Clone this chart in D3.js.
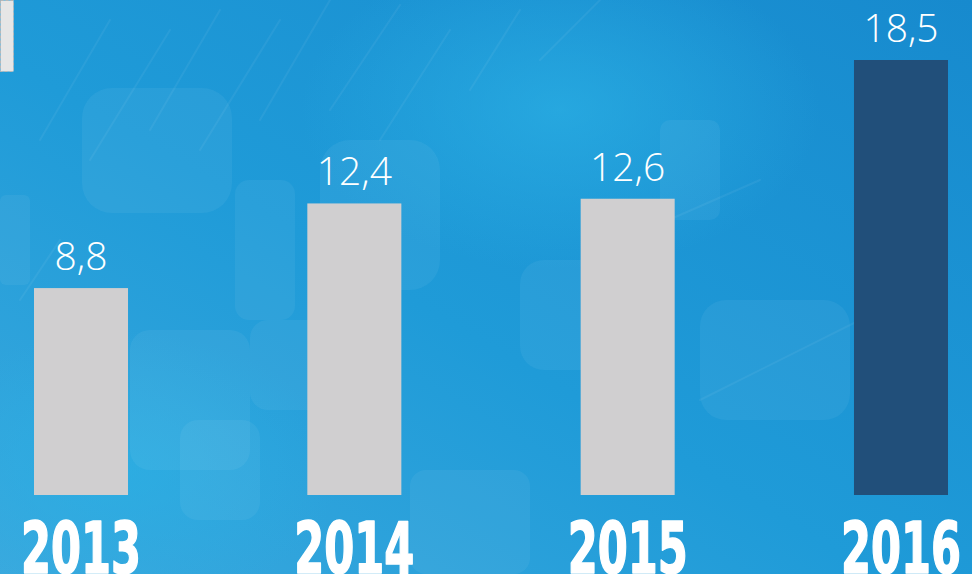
<!DOCTYPE html>
<html>
<head>
<meta charset="utf-8">
<script src="https://cdn.jsdelivr.net/npm/d3@7/dist/d3.min.js"></script>
<style>
  html, body { margin: 0; padding: 0; background: #1e95d4; overflow: hidden; }
  svg { display: block; }
</style>
</head>
<body>
<svg id="chart" width="972" height="574"></svg>
<script>
const years = ["2013", "2014", "2015", "2016"];
const values = [8.8, 12.4, 12.6, 18.5];
const valueLabels = ["8,8", "12,4", "12,6", "18,5"];
const highlightYear = "2016";

const W = 972, H = 574;
const svg = d3.select("#chart");

// ---- background ----
const defs = svg.append("defs");
const bg = defs.append("linearGradient").attr("id", "bg")
  .attr("x1", "0").attr("y1", "1").attr("x2", "1").attr("y2", "0");
bg.append("stop").attr("offset", "0%").attr("stop-color", "#3aa9de");
bg.append("stop").attr("offset", "45%").attr("stop-color", "#1f9bd8");
bg.append("stop").attr("offset", "100%").attr("stop-color", "#178ace");
svg.append("rect").attr("width", W).attr("height", H).attr("fill", "url(#bg)");

const glow = defs.append("radialGradient").attr("id", "glow");
glow.append("stop").attr("offset", "0%").attr("stop-color", "#2bb0e4").attr("stop-opacity", 0.7);
glow.append("stop").attr("offset", "100%").attr("stop-color", "#2bb0e4").attr("stop-opacity", 0);
svg.append("ellipse").attr("cx", 560).attr("cy", 110).attr("rx", 260).attr("ry", 160).attr("fill", "url(#glow)");
svg.append("ellipse").attr("cx", 120).attr("cy", 470).attr("rx", 220).attr("ry", 140).attr("fill", "url(#glow)");

// soft bubble shapes (background texture)
const bubbles = [
  [82, 88, 150, 125, 30], [235, 180, 60, 140, 14], [320, 140, 120, 150, 30],
  [0, 195, 30, 90, 6], [130, 330, 120, 140, 20], [250, 320, 120, 90, 18],
  [180, 420, 80, 100, 18], [410, 470, 120, 104, 16], [520, 260, 100, 110, 24],
  [700, 300, 150, 120, 26], [660, 120, 60, 100, 10]
];
svg.append("g").selectAll("rect").data(bubbles).join("rect")
  .attr("x", d => d[0]).attr("y", d => d[1]).attr("width", d => d[2]).attr("height", d => d[3])
  .attr("rx", d => d[4]).attr("fill", "#ffffff").attr("opacity", 0.05);

// diagonal streaks
const streakG = svg.append("g").attr("stroke", "#ffffff").attr("stroke-linecap", "round");
const streaks = [
  [40, 140, 110, 20], [90, 160, 170, 30], [150, 130, 220, 10], [200, 150, 280, 20],
  [260, 120, 330, 0], [330, 110, 400, 5], [380, 140, 450, 30], [470, 90, 520, 10],
  [540, 60, 600, 0], [20, 300, 60, 240], [600, 250, 760, 180], [700, 400, 900, 300]
];
streakG.selectAll("line").data(streaks).join("line")
  .attr("x1", d => d[0]).attr("y1", d => d[1]).attr("x2", d => d[2]).attr("y2", d => d[3])
  .attr("stroke-width", 2).attr("opacity", 0.05);

// small grey box top-left
svg.append("rect").attr("x", 0.5).attr("y", 0.5).attr("width", 13).attr("height", 71)
  .attr("fill", "#e6e6e6").attr("stroke", "#b8b8b8").attr("stroke-dasharray", "3,2");

// ---- scales ----
const x = d3.scaleBand().domain(years).range([34, 948]).paddingInner(0.656).paddingOuter(0);
const y = d3.scaleLinear().domain([0, 18.5]).range([495, 60]);

const data = years.map((yr, i) => ({ year: yr, value: values[i], label: valueLabels[i] }));

// bars
svg.append("g").selectAll("rect").data(data).join("rect")
  .attr("x", d => x(d.year))
  .attr("y", d => y(d.value))
  .attr("width", x.bandwidth())
  .attr("height", d => y(0) - y(d.value))
  .attr("fill", d => d.year === highlightYear ? "#214f7a" : "#d0cfd0");

// value labels
svg.append("g").selectAll("text").data(data).join("text")
  .attr("x", d => x(d.year) + x.bandwidth() / 2)
  .attr("y", d => y(d.value) - 18)
  .attr("text-anchor", "middle")
  .attr("fill", "#ffffff")
  .attr("font-family", "'Open Sans', 'Segoe UI', Lato, sans-serif")
  .attr("font-weight", 300)
  .attr("font-size", 39)
  .text(d => d.label);

// year labels (x axis)
const xAxis = svg.append("g");
xAxis.selectAll("text").data(years).join("text")
  .attr("x", d => x(d) + x.bandwidth() / 2 - 60)
  .attr("y", 573)
  .attr("textLength", 120)
  .attr("lengthAdjust", "spacingAndGlyphs")
  .attr("fill", "#ffffff")
  .attr("stroke", "#ffffff")
  .attr("stroke-width", 1.6)
  .attr("stroke-linejoin", "round")
  .attr("font-family", "'Liberation Sans Narrow', 'Arial Narrow', 'DejaVu Sans Condensed', 'Liberation Sans', sans-serif")
  .attr("font-weight", 700)
  .attr("font-size", 72)
  .text(d => d);
</script>
</body>
</html>
